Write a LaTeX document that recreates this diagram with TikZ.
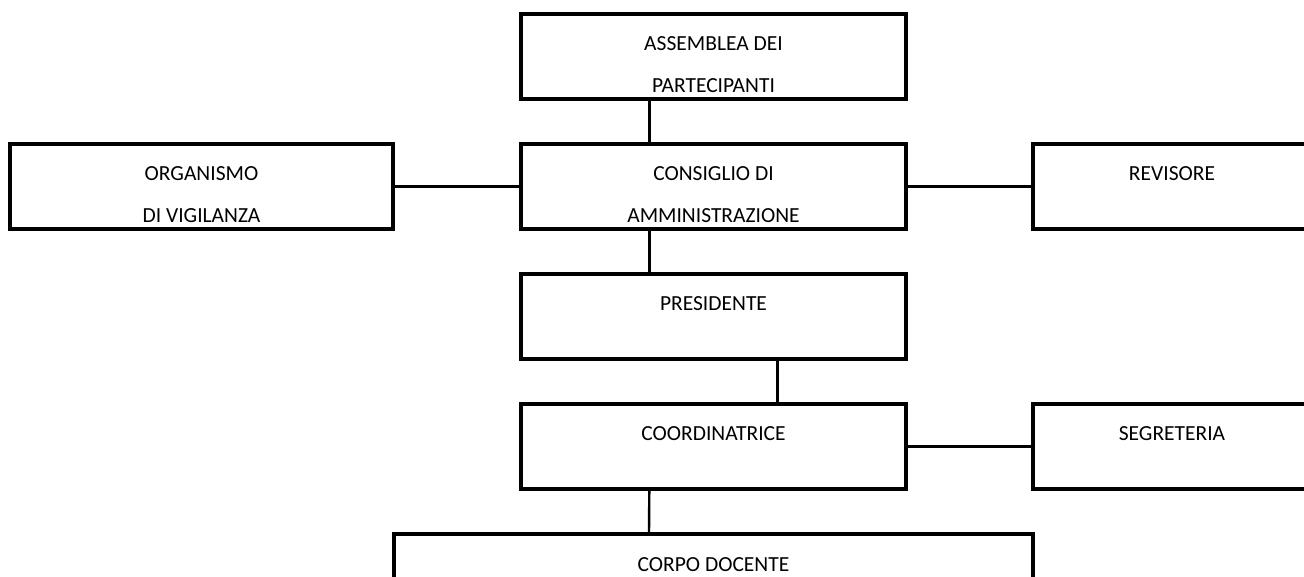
\documentclass[tikz,border=0pt]{standalone}
\usepackage{fontspec}
\setmainfont{Carlito}
\usetikzlibrary{calc}
\tikzset{
  orgbox/.style={draw=black, line width=3.8pt, inner sep=0pt, outer sep=0pt, anchor=north west, minimum height=85pt},
  lbl/.style={anchor=base, inner sep=0pt, align=center, text=black, font=\fontsize{21.5}{42}\selectfont},
  conn/.style={draw=black, line width=2.4pt}
}
\begin{document}
\begin{tikzpicture}[x=1pt,y=-1pt]
\useasboundingbox (0,0) rectangle (1304,576);
\clip (0,0) rectangle (1304,576);
\fill[white] (0,0) rectangle (1304,576);
% boxes
\node[orgbox, minimum width=385pt] (asm) at (521,14) {};
\node[orgbox, minimum width=385pt] (cda) at (521,144) {};
\node[orgbox, minimum width=383pt] (odv) at (10,144) {};
\node[orgbox, minimum width=278pt] (rev) at (1033,144) {};
\node[orgbox, minimum width=385pt] (pres) at (521,274) {};
\node[orgbox, minimum width=385pt] (coord) at (521,404) {};
\node[orgbox, minimum width=278pt] (seg) at (1033,404) {};
\node[orgbox, minimum width=639pt] (corpo) at (394,534) {};
% labels (base anchor = baseline of the last line)
\node[lbl] (asmT) at ($(asm.north)+(0,78)$) {ASSEMBLEA DEI\\PARTECIPANTI};
\node[lbl] (cdaT) at ($(cda.north)+(0,78)$) {CONSIGLIO DI\\AMMINISTRAZIONE};
\node[lbl] (odvT) at ($(odv.north)+(0,78)$) {ORGANISMO\\DI VIGILANZA};
\node[lbl] (revT) at ($(rev.north)+(0,36)$) {REVISORE};
\node[lbl] (presT) at ($(pres.north)+(0,36)$) {PRESIDENTE};
\node[lbl] (coordT) at ($(coord.north)+(0,36)$) {COORDINATRICE};
\node[lbl] (segT) at ($(seg.north)+(0,36)$) {SEGRETERIA};
\node[lbl] (corpoT) at ($(corpo.north)+(0,37)$) {CORPO DOCENTE};
% connectors
\draw[conn] ($(asm.south west)!1/3!(asm.south east)$) -- ($(cda.north west)!1/3!(cda.north east)$);
\draw[conn] ($(cda.south west)!1/3!(cda.south east)$) -- ($(pres.north west)!1/3!(pres.north east)$);
\draw[conn] ($(pres.south west)!2/3!(pres.south east)$) -- ($(coord.north west)!2/3!(coord.north east)$);
\draw[conn] ($(coord.south west)!1/3!(coord.south east)$) -- ($(corpo.north west)!{(649-394)/639}!(corpo.north east)$);
\draw[conn] (odv.east) -- (cda.west);
\draw[conn] (cda.east) -- (rev.west);
\draw[conn] (coord.east) -- (seg.west);
\end{tikzpicture}
\end{document}
